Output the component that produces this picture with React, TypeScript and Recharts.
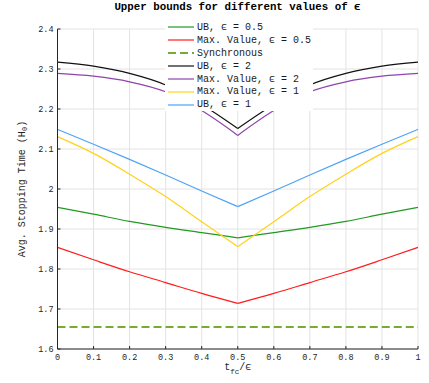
import React from 'react';
import { LineChart, Line, XAxis, YAxis, CartesianGrid, Legend } from 'recharts';

const xValues = [0, 0.1, 0.2, 0.3, 0.4, 0.5, 0.6, 0.7, 0.8, 0.9, 1];
const ubEps05 = [1.954, 1.937, 1.919, 1.904, 1.891, 1.878, 1.891, 1.904, 1.919, 1.937, 1.954];
const maxEps05 = [1.854, 1.823, 1.793, 1.766, 1.739, 1.714, 1.739, 1.766, 1.793, 1.823, 1.854];
const synchronous = [1.655, 1.655, 1.655, 1.655, 1.655, 1.655, 1.655, 1.655, 1.655, 1.655, 1.655];
const ubEps2 = [2.317, 2.307, 2.289, 2.260, 2.211, 2.151, 2.211, 2.260, 2.289, 2.307, 2.317];
const maxEps2 = [2.289, 2.282, 2.268, 2.243, 2.196, 2.134, 2.196, 2.243, 2.268, 2.282, 2.289];
const maxEps1 = [2.131, 2.089, 2.037, 1.981, 1.918, 1.856, 1.918, 1.981, 2.037, 2.089, 2.131];
const ubEps1 = [2.149, 2.112, 2.074, 2.035, 1.995, 1.956, 1.995, 2.035, 2.074, 2.112, 2.149];

const xTicks = [0, 0.1, 0.2, 0.3, 0.4, 0.5, 0.6, 0.7, 0.8, 0.9, 1];
const yTicks = [1.6, 1.7, 1.8, 1.9, 2, 2.1, 2.2, 2.3, 2.4];

const seriesKeys = ['ub05', 'max05', 'sync', 'ub2', 'max2', 'max1', 'ub1'];
const seriesNames = [
  'UB, ϵ = 0.5',
  'Max. Value, ϵ = 0.5',
  'Synchronous',
  'UB, ϵ = 2',
  'Max. Value, ϵ = 2',
  'Max. Value, ϵ = 1',
  'UB, ϵ = 1',
];
const seriesValues = [ubEps05, maxEps05, synchronous, ubEps2, maxEps2, maxEps1, ubEps1];
const seriesColors = ['#229a22', '#ff1c1c', '#77ac30', '#111111', '#8e44ad', '#ffd21a', '#4ea3f7'];
const seriesDash: (string | undefined)[] = [undefined, undefined, '8 4', undefined, undefined, undefined, undefined];
const seriesWidth = [1.2, 1.2, 1.9, 1.2, 1.2, 1.2, 1.2];

const VERTEX = 0.5;

const data = xValues.map((x, i) => {
  const row: Record<string, number | null> = { x };
  seriesKeys.forEach((k, s) => {
    const v = seriesValues[s][i];
    row[k + 'L'] = x <= VERTEX ? v : null;
    row[k + 'R'] = x >= VERTEX ? v : null;
  });
  return row;
});

const FONT = '"Liberation Mono", "DejaVu Sans Mono", monospace';
const AXIS = '#262626';

const LegendContent = () => (
  <div style={{ background: '#fff', padding: '0px 2px', fontFamily: FONT, fontSize: 10, color: '#1a1a1a' }}>
    {seriesNames.map((name, i) => (
      <div key={i} style={{ display: 'flex', alignItems: 'center', height: 12.9 }}>
        <svg width={28} height={6} style={{ marginRight: 2 }}>
          <line x1={1} y1={3} x2={27} y2={3} stroke={seriesColors[i]} strokeWidth={seriesWidth[i]}
            strokeDasharray={seriesDash[i]} />
        </svg>
        <span style={{ whiteSpace: 'pre' }}>{name}</span>
      </div>
    ))}
  </div>
);

const YLabel = (props: any) => {
  const vb = props.viewBox || {};
  const cx = 22;
  const cy = vb.y + vb.height / 2;
  return (
    <text x={cx} y={cy} transform={`rotate(-90 ${cx} ${cy})`} textAnchor="middle" dominantBaseline="central"
      fontFamily={FONT} fontSize={10} fill={AXIS}>
      Avg. Stopping Time (H<tspan dy={3} fontSize={7.5}>0</tspan><tspan dy={-3}>)</tspan>
    </text>
  );
};

const XLabel = (props: any) => {
  const vb = props.viewBox || {};
  const cx = vb.x + vb.width / 2;
  return (
    <text x={cx} y={370} textAnchor="middle" fontFamily={FONT} fontSize={10} fill={AXIS}>
      t<tspan dy={4} fontSize={7.5}>fc</tspan><tspan dy={-4}>/ϵ</tspan>
    </text>
  );
};

export default function App() {
  return (
    <div style={{ position: 'absolute', left: 0, top: 0, width: 429, height: 383, background: '#fff' }}>
      <div style={{ position: 'absolute', left: 57.5, top: 0, width: 360, textAlign: 'center', fontFamily: FONT,
        fontWeight: 'bold', fontSize: 10.8, lineHeight: '14px', color: '#000' }}>
        Upper bounds for different values of ϵ
      </div>
      <LineChart width={429} height={383} data={data} margin={{ top: 29, right: 11, bottom: 14, left: 0 }}
        style={{ position: 'absolute', left: 0, top: 0 }}>
        <CartesianGrid stroke="#e3e3e3" strokeWidth={1} />
        <XAxis dataKey="x" type="number" domain={[0, 1]} ticks={xTicks} interval={0}
          stroke={AXIS} tickSize={-3} tickMargin={8} height={20}
          tick={{ fontFamily: FONT, fontSize: 8.5, fill: AXIS }} label={<XLabel />} />
        <XAxis xAxisId="top" orientation="top" dataKey="x" type="number" domain={[0, 1]} ticks={xTicks}
          interval={0} stroke={AXIS} tickSize={-3} height={0} tick={false} />
        <YAxis type="number" domain={[1.6, 2.4]} ticks={yTicks} interval={0} width={57.5}
          stroke={AXIS} tickSize={-3} tickMargin={7}
          tick={{ fontFamily: FONT, fontSize: 8.5, fill: AXIS }} label={<YLabel />} />
        <YAxis yAxisId="right" orientation="right" type="number" domain={[1.6, 2.4]} ticks={yTicks}
          interval={0} width={0} stroke={AXIS} tickSize={-3} tick={false} />
        <Legend layout="vertical" align="center" verticalAlign="middle" content={<LegendContent />}
          wrapperStyle={{ left: 165, top: 21, width: 'auto', height: 'auto' }} />
        {seriesKeys.flatMap((k, s) => ['L', 'R'].map((side) => (
          <Line key={k + side} name={seriesNames[s]} dataKey={k + side} type="monotone"
            stroke={seriesColors[s]} strokeWidth={seriesWidth[s]} strokeDasharray={seriesDash[s]}
            dot={false} activeDot={false} legendType="none" isAnimationActive={false} />
        )))}
      </LineChart>
    </div>
  );
}
